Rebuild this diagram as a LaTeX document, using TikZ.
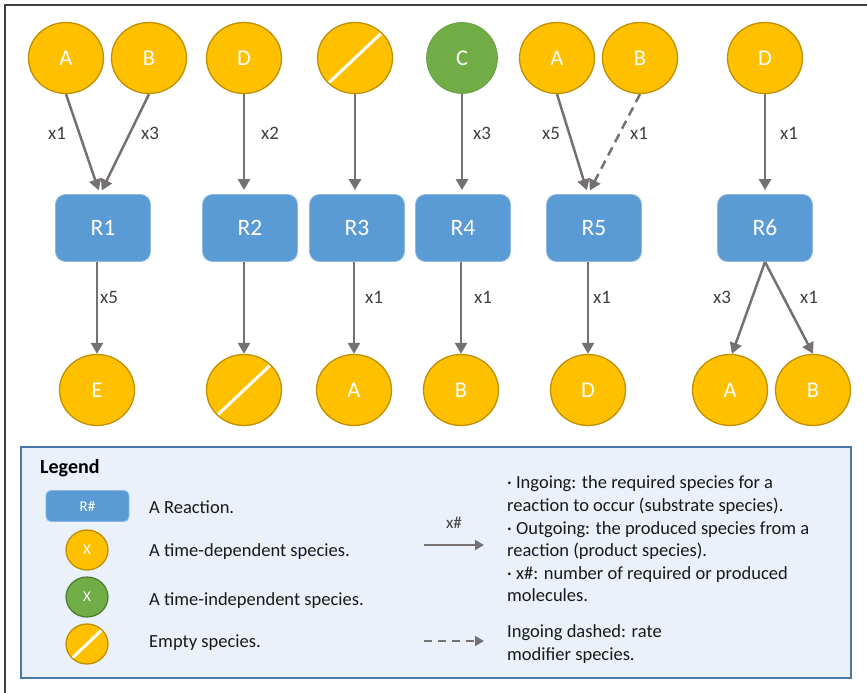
\documentclass[tikz,border=0pt]{standalone}
\usepackage{fontspec}
\setmainfont{Carlito}
\usepackage{tikz}
\usepackage{xcolor}
\usetikzlibrary{shapes.geometric,arrows.meta}

\definecolor{specyellow}{HTML}{FFC000}
\definecolor{specborder}{HTML}{BF9000}
\definecolor{fixgreen}{HTML}{70AD47}
\definecolor{fixborder}{HTML}{5E9A3A}
\definecolor{reactblue}{HTML}{5B9BD5}
\definecolor{reactedge}{HTML}{8DB8E2}
\definecolor{flowgray}{HTML}{767171}
\definecolor{labelgray}{HTML}{3F3F3F}
\definecolor{keyfill}{HTML}{EAF1FA}
\definecolor{keyedge}{HTML}{4A77A8}
\definecolor{framegray}{HTML}{404040}

\begin{document}
\begin{tikzpicture}[x=1pt, y=-1pt,
    species/.style={ellipse, draw=specborder, line width=1.3pt, fill=specyellow,
        minimum width=75pt, minimum height=71pt, inner sep=0pt, text=white,
        font=\fontsize{22.5}{26}\selectfont},
    fixed/.style={species, draw=fixborder, line width=0.6pt, fill=fixgreen, minimum width=71pt},
    nullspecies/.style={species, path picture={
        \draw[white, line width=3pt] (path picture bounding box.south west) -- (path picture bounding box.north east);}},
    reaction/.style={rectangle, rounded corners=10pt, draw=reactedge, line width=0.8pt, fill=reactblue,
        minimum width=95pt, minimum height=67pt, text=white, font=\fontsize{23.5}{27}\selectfont},
    flow/.style={draw=flowgray, line width=2.5pt, -{Triangle[length=11pt, width=12pt]}},
    modifier/.style={flow, dash pattern=on 9pt off 6pt},
    lbl/.style={text=labelgray, inner sep=0pt, font=\fontsize{19}{22}\selectfont},
    keytext/.style={anchor=west, inner sep=0pt, align=left, text=black!90,
        font=\fontsize{18.5}{22.6}\selectfont},
    keyreaction/.style={reaction, rounded corners=5pt, minimum width=83pt, minimum height=31pt,
        font=\fontsize{15}{18}\selectfont},
    keyspecies/.style={minimum width=42pt, minimum height=40pt, font=\fontsize{15}{18}\selectfont},
    keyflow/.style={flow, line width=2pt, -{Triangle[length=9pt, width=10pt]}}
]
    \useasboundingbox (0,0) rectangle (867,693);
    \draw[framegray, line width=1.5pt] (5,693) -- (5,5) -- (867,5);

    % ingoing species
    \node[species] (inA1) at (66,58) {A};
    \node[species] (inB1) at (149,58) {B};
    \node[species] (inD2) at (244,58) {D};
    \node[nullspecies] (inN3) at (355,58) {};
    \node[fixed] (inC4) at (462,58) {C};
    \node[species] (inA5) at (557,58) {A};
    \node[species] (inB5) at (640,58) {B};
    \node[species] (inD6) at (765,58) {D};

    % reactions
    \node[reaction] (R1) at (103,228) {R1};
    \node[reaction] (R2) at (250,228) {R2};
    \node[reaction] (R3) at (357,228) {R3};
    \node[reaction] (R4) at (463,228) {R4};
    \node[reaction] (R5) at (594,228) {R5};
    \node[reaction] (R6) at (765,228) {R6};

    % produced species
    \node[species] (outE1) at (97,390) {E};
    \node[nullspecies] (outN2) at (244,390) {};
    \node[species] (outA3) at (354,390) {A};
    \node[species] (outB4) at (461,390) {B};
    \node[species] (outD5) at (588,390) {D};
    \node[species] (outA6) at (730,390) {A};
    \node[species] (outB6) at (813,390) {B};

    % ingoing arrows
    \draw[flow, shorten >=4pt] (inA1.south) -- ([xshift=-3pt]R1.north);
    \draw[flow, shorten >=4pt] (inB1.south) -- ([xshift=-3pt]R1.north);
    \draw[flow, shorten >=4pt] (inD2.south) -- (inD2.south |- R2.north);
    \draw[flow, shorten >=4pt] (inN3.south) -- (inN3.south |- R3.north);
    \draw[flow, shorten >=4pt] (inC4.south) -- (inC4.south |- R4.north);
    \draw[flow, shorten >=4pt] (inA5.south) -- ([xshift=-6pt]R5.north);
    \draw[modifier, shorten >=4pt] (inB5.south) -- ([xshift=-6pt]R5.north);
    \draw[flow, shorten >=4pt] (inD6.south) -- (R6.north);

    % outgoing arrows
    \draw[flow] (outE1.north |- R1.south) -- (outE1.north);
    \draw[flow] (outN2.north |- R2.south) -- (outN2.north);
    \draw[flow] (outA3.north |- R3.south) -- (outA3.north);
    \draw[flow] (outB4.north |- R4.south) -- (outB4.north);
    \draw[flow] (outD5.north |- R5.south) -- (outD5.north);
    \draw[flow] (R6.south) -- ([xshift=2pt]outA6.north);
    \draw[flow] (R6.south) -- (outB6.north);

    % stoichiometry
    \node[lbl] (nA1) at (57,133) {x1};
    \node[lbl] (nB1) at (150,133) {x3};
    \node[lbl] (nD2) at (270,133) {x2};
    \node[lbl] (nC4) at (482,133) {x3};
    \node[lbl] (nA5) at (551,133) {x5};
    \node[lbl] (nB5) at (639,133) {x1};
    \node[lbl] (nD6) at (789,133) {x1};
    \node[lbl] (nE1) at (109,297) {x5};
    \node[lbl] (nA3) at (374,297) {x1};
    \node[lbl] (nB4) at (483,297) {x1};
    \node[lbl] (nD5) at (602,297) {x1};
    \node[lbl] (nA6) at (722,297) {x3};
    \node[lbl] (nB6) at (809,297) {x1};

    % legend
    \draw[keyedge, fill=keyfill, line width=1.5pt] (21,447) rectangle (851,678);
    \node[anchor=west, inner sep=0pt, font=\fontsize{20}{24}\selectfont\bfseries] (keytitle) at (40,468) {Legend};
    \node[keyreaction] (keyR) at (87.5,506) {R\#};
    \node[species, keyspecies] (keyX) at (87,550) {X};
    \node[fixed, keyspecies, draw=fixborder!80!black, line width=1.2pt] (keyC) at (87,597) {X};
    \node[nullspecies, keyspecies] (keyN) at (87,644) {};
    \node[keytext] (txtR) at (149,507) {A Reaction.};
    \node[keytext] (txtX) at (149,552) {A time-dependent species.};
    \node[keytext] (txtC) at (149,601) {A time-independent species.};
    \node[keytext] (txtN) at (149,643) {Empty species.};

    \coordinate (flowL) at (424,545);
    \coordinate (flowR) at (484,545);
    \draw[keyflow] (flowL) -- (flowR);
    \node[lbl, font=\fontsize{17}{20}\selectfont] (keyx) at (454,523) {x\#};
    \node[keytext] (txtflow) at (507,539) {· Ingoing: the required species for a\\
        reaction to occur (substrate species).\\
        · Outgoing: the produced species from a\\
        reaction (product species).\\
        · x\#: number of required or produced\\
        molecules.};

    \coordinate (modL) at (424,641);
    \coordinate (modR) at (484,641);
    \draw[keyflow, dash pattern=on 8pt off 6pt] (modL) -- (modR);
    \node[keytext] (txtmod) at (507,644) {Ingoing dashed: rate\\modifier species.};
\end{tikzpicture}
\end{document}
